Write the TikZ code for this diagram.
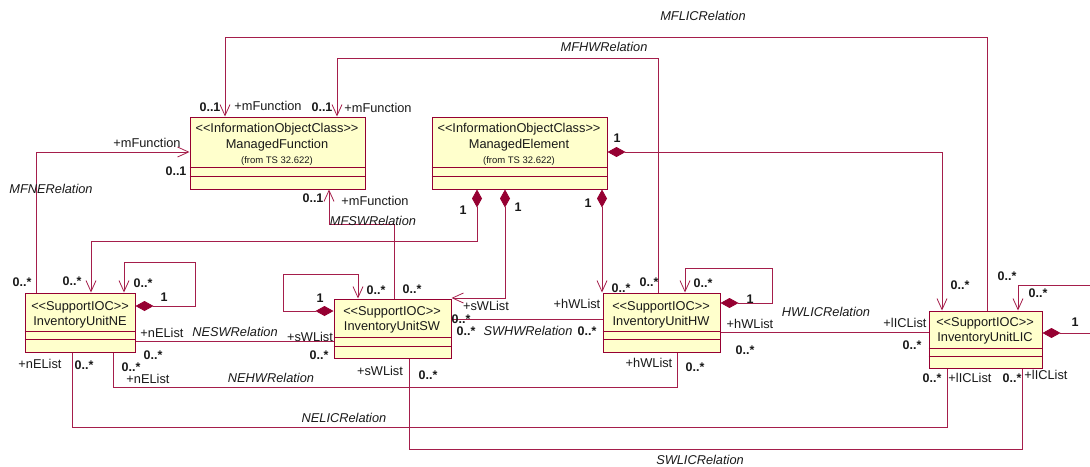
\documentclass[tikz,border=0pt]{standalone}
\usepackage{fontspec}
\setmainfont{Liberation Sans}
\usetikzlibrary{arrows.meta,fit}
\definecolor{umlred}{RGB}{150,0,50}
\definecolor{umlline}{RGB}{165,30,75}
\definecolor{umlfill}{RGB}{255,255,204}
\definecolor{umltext}{RGB}{25,25,25}
\newcommand\stereo[1]{<\kern0pt<#1>\kern0pt>}
\begin{document}
\begin{tikzpicture}[x=1pt,y=-1pt,
  box/.style={draw=umlred,fill=umlfill,line width=1pt,inner sep=0pt},
  cmp/.style={draw=umlred,line width=0.8pt},
  assoc/.style={draw=umlline,line width=0.8pt},
  nav/.style={assoc,arrows={-Straight Barb[length=11pt,width=10pt]}},
  comp/.style={assoc,arrows={Diamond[length=18pt,width=10pt,color=umlred]-Straight Barb[length=11pt,width=10pt]}},
  componly/.style={assoc,arrows={Diamond[length=18pt,width=10pt,color=umlred]-}},
  txt/.style={font=\fontsize{12.8}{14}\selectfont,text=umltext,inner sep=0pt},
  small/.style={font=\fontsize{9.5}{11}\selectfont,text=umltext,inner sep=0pt},
  mult/.style={font=\fontsize{12.5}{14}\selectfont\bfseries,text=umltext,inner sep=0pt},
  rel/.style={font=\fontsize{12.8}{14}\selectfont\itshape,text=umltext,inner sep=0pt},
]
\useasboundingbox (0,0) rectangle (1090,466);

% ---------- classes ----------
\node[box,fit={(190,117)(365,189)}] (MF) {};
\draw[cmp] (MF.west |- 0,167) -- (MF.east |- 0,167);
\draw[cmp] (MF.west |- 0,176) -- (MF.east |- 0,176);
\node[txt] (mf1) at (277,129) {\stereo{InformationObjectClass}};
\node[txt] (mf2) at (277,145) {ManagedFunction};
\node[small] (mf3) at (277,161) {(from TS 32.622)};

\node[box,fit={(432,117)(607,189)}] (ME) {};
\draw[cmp] (ME.west |- 0,167) -- (ME.east |- 0,167);
\draw[cmp] (ME.west |- 0,176) -- (ME.east |- 0,176);
\node[txt] (me1) at (519,129) {\stereo{InformationObjectClass}};
\node[txt] (me2) at (519,145) {ManagedElement};
\node[small] (me3) at (519,161) {(from TS 32.622)};

\node[box,fit={(25,293)(135,352)}] (NE) {};
\draw[cmp] (NE.west |- 0,331) -- (NE.east |- 0,331);
\draw[cmp] (NE.west |- 0,339) -- (NE.east |- 0,339);
\node[txt] (ne1) at (80,307) {\stereo{SupportIOC}};
\node[txt] (ne2) at (80,322) {InventoryUnitNE};

\node[box,fit={(334,299)(451,358)}] (SW) {};
\draw[cmp] (SW.west |- 0,337) -- (SW.east |- 0,337);
\draw[cmp] (SW.west |- 0,346) -- (SW.east |- 0,346);
\node[txt] (sw1) at (392,312) {\stereo{SupportIOC}};
\node[txt] (sw2) at (392,327) {InventoryUnitSW};

\node[box,fit={(603,293)(720,352)}] (HW) {};
\draw[cmp] (HW.west |- 0,331) -- (HW.east |- 0,331);
\draw[cmp] (HW.west |- 0,339) -- (HW.east |- 0,339);
\node[txt] (hw1) at (661,307) {\stereo{SupportIOC}};
\node[txt] (hw2) at (661,322) {InventoryUnitHW};

\node[box,fit={(929,311)(1042,368)}] (LIC) {};
\draw[cmp] (LIC.west |- 0,348) -- (LIC.east |- 0,348);
\draw[cmp] (LIC.west |- 0,356) -- (LIC.east |- 0,356);
\node[txt] (lic1) at (985,323) {\stereo{SupportIOC}};
\node[txt] (lic2) at (985,338) {InventoryUnitLIC};

\coordinate (edgeA) at (1090,285);
\coordinate (edgeB) at (1090,333);

% ---------- connectors ----------
% MFLICRelation
\draw[nav] (LIC.north -| 987,0) -- (987,37) -- (225,37) -- (MF.north -| 225,0);
% MFHWRelation
\draw[nav] (HW.north -| 658,0) -- (658,58) -- (337,58) -- (MF.north -| 337,0);
% MFNERelation
\draw[nav] (NE.north -| 36,0) -- (36,152) -- (MF.west |- 0,152);
% MFSWRelation
\draw[nav] (SW.north -| 394,0) -- (394,224) -- (329,224) -- (MF.south -| 329,0);
% ManagedElement compositions
\draw[comp] (ME.south -| 477,0) -- (477,241) -- (91,241) -- (NE.north -| 91,0);
\draw[comp] (ME.south -| 505,0) -- (505,298) -- (SW.east |- 0,298);
\draw[comp] (ME.south -| 602,0) -- (HW.north -| 602,0);
\draw[comp] (ME.east |- 0,152) -- (942,152) -- (LIC.north -| 942,0);
% self compositions
\draw[comp] (NE.east |- 0,306) -- (195,306) -- (195,262) -- (124,262) -- (NE.north -| 124,0);
\draw[comp] (SW.west |- 0,311) -- (283,311) -- (283,274) -- (358,274) -- (SW.north -| 358,0);
\draw[comp] (HW.east |- 0,303) -- (772,303) -- (772,268) -- (685,268) -- (HW.north -| 685,0);
\draw[componly] (LIC.east |- 0,333) -- (edgeB);
\draw[nav] (edgeA) -- (1018,285) -- (LIC.north -| 1018,0);
% plain associations
\draw[assoc] (NE.east |- 0,341) -- (SW.west |- 0,341);
\draw[assoc] (NE.south -| 113,0) -- (113,387) -- (677,387) -- (HW.south -| 677,0);
\draw[assoc] (NE.south -| 72,0) -- (72,427) -- (947,427) -- (LIC.south -| 947,0);
\draw[assoc] (SW.south -| 409,0) -- (409,449) -- (1022,449) -- (LIC.south -| 1022,0);
\draw[assoc] (SW.east |- 0,319) -- (HW.west |- 0,319);
\draw[assoc] (HW.east |- 0,332) -- (LIC.west |- 0,332);

% ---------- labels ----------
\node[rel] (t1) at (703,16) {MFLICRelation};
\node[rel] (t2) at (604,47) {MFHWRelation};
\node[mult] (t3) at (210,107) {0..1};
\node[txt] (t4) at (268,106) {+mFunction};
\node[mult] (t5) at (322,107) {0..1};
\node[txt] (t6) at (378,108) {+mFunction};

\node[txt] (t7) at (147,143) {+mFunction};
\node[mult] (t8) at (176,171) {0..1};
\node[rel] (t9) at (51,189) {MFNERelation};
\node[mult] (t10) at (22,282) {0..*};

\node[mult] (t11) at (313,198) {0..1};
\node[txt] (t12) at (375,201) {+mFunction};
\node[rel] (t13) at (373,221) {MFSWRelation};
\node[mult] (t14) at (412,289) {0..*};

\node[mult] (t15) at (463,210) {1};
\node[mult] (t16) at (72,281) {0..*};
\node[mult] (t17) at (518,207) {1};
\node[txt] (t18) at (486,306) {+sWList};
\node[mult] (t19) at (461,319) {0..*};
\node[mult] (t20) at (588,203) {1};
\node[mult] (t21) at (621,288) {0..*};
\node[mult] (t22) at (617,138) {1};
\node[mult] (t23) at (960,285) {0..*};

\node[mult] (t24) at (143,283) {0..*};
\node[mult] (t25) at (164,297) {1};
\node[mult] (t26) at (320,298) {1};
\node[mult] (t27) at (376,290) {0..*};
\node[mult] (t28) at (703,283) {0..*};
\node[mult] (t29) at (750,299) {1};
\node[mult] (t30) at (1038,293) {0..*};
\node[mult] (t31) at (1075,322) {1};
\node[mult] (t32) at (1007,276) {0..*};
\node[mult] (t33) at (649,282) {0..*};

\node[txt] (t34) at (162,333) {+nEList};
\node[rel] (t35) at (235,332) {NESWRelation};
\node[mult] (t36) at (153,355) {0..*};
\node[txt] (t37) at (310,337) {+sWList};
\node[mult] (t38) at (319,355) {0..*};

\node[mult] (t39) at (131,367) {0..*};
\node[txt] (t40) at (148,379) {+nEList};
\node[rel] (t41) at (271,378) {NEHWRelation};
\node[txt] (t42) at (649,363) {+hWList};
\node[mult] (t43) at (695,367) {0..*};

\node[txt] (t44) at (40,364) {+nEList};
\node[mult] (t45) at (84,365) {0..*};
\node[rel] (t46) at (344,418) {NELICRelation};
\node[mult] (t47) at (932,378) {0..*};
\node[txt] (t48) at (970,378) {+lICList};

\node[txt] (t49) at (380,371) {+sWList};
\node[mult] (t50) at (428,375) {0..*};
\node[rel] (t51) at (700,460) {SWLICRelation};
\node[mult] (t52) at (1012,378) {0..*};
\node[txt] (t53) at (1046,375) {+lICList};

\node[mult] (t54) at (466,331) {0..*};
\node[rel] (t55) at (528,331) {SWHWRelation};
\node[mult] (t56) at (587,331) {0..*};
\node[txt] (t57) at (577,304) {+hWList};

\node[rel] (t58) at (826,312) {HWLICRelation};
\node[txt] (t59) at (750,324) {+hWList};
\node[mult] (t60) at (745,350) {0..*};
\node[txt] (t61) at (905,323) {+lICList};
\node[mult] (t62) at (912,345) {0..*};
\end{tikzpicture}
\end{document}
